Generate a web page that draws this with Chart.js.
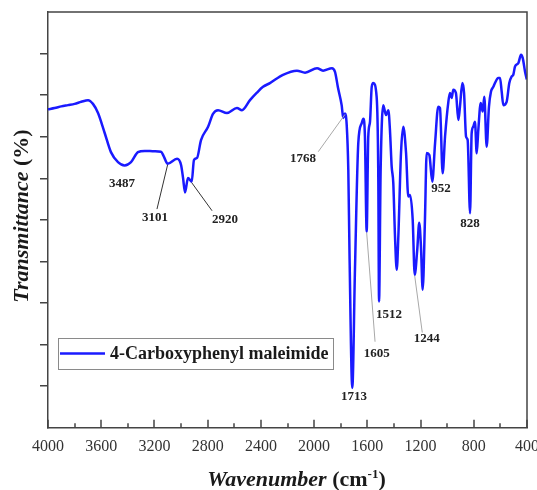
<!DOCTYPE html>
<html>
<head>
<meta charset="utf-8">
<script src="https://cdn.jsdelivr.net/npm/chart.js@4.4.1/dist/chart.umd.min.js"></script>
<style>
  html, body { margin: 0; padding: 0; background: #ffffff; }
  #wrap { width: 537px; height: 490px; position: relative; }
</style>
</head>
<body>
<div id="wrap"><canvas id="ir" width="537" height="490"></canvas></div>
<script>
// FT-IR spectrum of 4-carboxyphenyl maleimide
const seriesName = '4-Carboxyphenyl maleimide';

const wavenumbers = [
  4000, 3950, 3900, 3850, 3800, 3750, 3699, 3662, 3624, 3574, 3527, 3474, 3424, 3376, 3324, 3273,
  3200, 3151, 3130, 3101, 3030, 3000, 2985, 2970, 2948, 2920, 2903, 2880, 2850, 2797, 2760, 2722,
  2655, 2580, 2542, 2482, 2430, 2384, 2332, 2234, 2129, 2068, 1978, 1933, 1866, 1843, 1820, 1793,
  1781, 1768, 1755, 1743, 1734, 1713, 1693, 1668, 1642, 1630, 1618, 1605, 1593, 1580, 1567, 1555,
  1530, 1518, 1512, 1500, 1480, 1460, 1442, 1430, 1417, 1405, 1392, 1379, 1367, 1347, 1330, 1309,
  1292, 1279, 1259, 1244, 1225, 1210, 1197, 1184, 1167, 1154, 1134, 1112, 1091, 1067, 1054, 1034,
  1016, 991, 979, 966, 954, 934, 916, 904, 886, 873, 858, 846, 828, 816, 804, 791,
  778, 766, 748, 733, 721, 703, 686, 671, 653, 641, 616, 603, 590, 578, 553, 533,
  515, 503, 490, 465, 445, 432, 415, 402
];

const transmittance = [
  76.6, 76.9, 77.3, 77.6, 77.9, 78.4, 78.8, 77.9, 75.7, 70.9, 66.3, 63.9, 63.1, 63.9, 66.3, 66.6,
  66.5, 66.4, 65.3, 63.5, 64.7, 63.2, 60.1, 56.6, 60.1, 59.2, 64.4, 64.9, 69.2, 72.4, 75.5, 76.4,
  75.7, 76.9, 76.4, 78.8, 80.6, 82.0, 82.9, 84.9, 85.9, 85.4, 86.5, 85.9, 86.5, 85.6, 81.7, 77.6,
  74.5, 75.6, 72.8, 62.0, 42.0, 9.6, 38.0, 68.5, 73.3, 74.3, 70.0, 47.2, 70.0, 73.6, 82.0, 82.9,
  79.6, 62.0, 30.4, 62.0, 77.6, 75.2, 76.4, 71.6, 62.8, 58.9, 46.0, 38.0, 46.0, 66.1, 72.4, 66.1,
  55.6, 56.0, 50.0, 36.8, 42.8, 49.3, 43.6, 33.2, 50.0, 66.1, 65.6, 59.2, 68.4, 77.2, 76.9, 61.2,
  70.0, 78.4, 80.5, 79.3, 81.3, 80.5, 74.0, 77.2, 82.9, 80.5, 70.0, 69.2, 51.6, 70.8, 72.4, 73.6,
  66.0, 71.6, 78.1, 76.1, 79.6, 67.6, 77.2, 80.8, 82.0, 82.9, 84.1, 84.1, 80.8, 77.6, 78.4, 82.9,
  84.5, 84.9, 86.9, 87.7, 89.7, 88.9, 85.7, 83.8
];

const xTickValues = [4000, 3600, 3200, 2800, 2400, 2000, 1600, 1200, 800, 400];
const xMinorTickValues = [3800, 3400, 3000, 2600, 2200, 1800, 1400, 1000, 600];
const yTickValues = [10, 20, 30, 40, 50, 60, 70, 80, 90];

// assigned band positions (cm-1)
const peakLabels = ['3487', '3101', '2920', '1768', '1713', '1605', '1512', '1244', '952', '828'];
const peakWavenumbers = [3487, 3101, 2920, 1768, 1713, 1605, 1512, 1244, 952, 828];

// where each band label sits, in axis units, and whether a leader line joins it to the band
const notePlacement = [
  { at: [3444, 58.7] },
  { at: [3196, 50.5], leaderFrom: [3181, 52.6], leaderColor: '#333333' },
  { at: [2670, 50.0], leaderFrom: [2767, 52.2], leaderColor: '#333333' },
  { at: [2084, 64.7], leaderFrom: [1969, 66.4], leaderColor: '#a8a8a8' },
  { at: [1700, 7.5] },
  { at: [1530, 17.8], leaderFrom: [1542, 20.7], leaderColor: '#a8a8a8' },
  { at: [1437, 27.2] },
  { at: [1154, 21.4], leaderFrom: [1187, 22.9], leaderColor: '#a8a8a8' },
  { at: [1046, 57.4] },
  { at: [828, 49.0] }
];

const AXIS_COLOR = '#444444';
const LINE_COLOR = '#1a1aff';
const SERIF = '"Liberation Serif", "Times New Roman", serif';

function valueAt(wn) {
  for (let i = 0; i < wavenumbers.length - 1; i++) {
    const a = wavenumbers[i], b = wavenumbers[i + 1];
    if (wn <= a && wn >= b) {
      const t = (a - wn) / (a - b);
      return transmittance[i] + t * (transmittance[i + 1] - transmittance[i]);
    }
  }
  return transmittance[transmittance.length - 1];
}

function drawRuns(ctx, runs, startX, baseY) {
  let x = startX;
  runs.forEach(r => {
    ctx.font = r.font;
    ctx.fillText(r.text, x, baseY - (r.rise || 0));
    x += ctx.measureText(r.text).width;
  });
}
function runsWidth(ctx, runs) {
  let w = 0;
  runs.forEach(r => { ctx.font = r.font; w += ctx.measureText(r.text).width; });
  return w;
}

const decorations = {
  id: 'decorations',
  afterDraw(chart) {
    const { ctx, chartArea: a, scales: { x, y } } = chart;
    ctx.save();

    // top and right frame
    ctx.strokeStyle = AXIS_COLOR;
    ctx.lineWidth = 1.5;
    ctx.beginPath();
    ctx.moveTo(a.left, a.top);
    ctx.lineTo(a.right, a.top);
    ctx.lineTo(a.right, a.bottom);
    ctx.stroke();

    // inward ticks on the wavenumber axis
    ctx.lineWidth = 1.5;
    ctx.beginPath();
    xTickValues.forEach(v => {
      const px = Math.round(x.getPixelForValue(v));
      ctx.moveTo(px, a.bottom);
      ctx.lineTo(px, a.bottom - 8);
    });
    xMinorTickValues.forEach(v => {
      const px = Math.round(x.getPixelForValue(v));
      ctx.moveTo(px, a.bottom);
      ctx.lineTo(px, a.bottom - 4.5);
    });
    ctx.stroke();

    // band labels and leader lines
    ctx.fillStyle = '#222222';
    ctx.font = 'bold 13px ' + SERIF;
    ctx.textAlign = 'center';
    ctx.textBaseline = 'middle';
    peakLabels.forEach((label, i) => {
      const p = notePlacement[i];
      const tx = x.getPixelForValue(p.at[0]);
      const ty = y.getPixelForValue(p.at[1]);
      ctx.fillText(label, tx, ty);
      if (p.leaderFrom) {
        const wn = peakWavenumbers[i];
        ctx.strokeStyle = p.leaderColor;
        ctx.lineWidth = 1;
        ctx.beginPath();
        ctx.moveTo(x.getPixelForValue(p.leaderFrom[0]), y.getPixelForValue(p.leaderFrom[1]));
        ctx.lineTo(x.getPixelForValue(wn), y.getPixelForValue(valueAt(wn)) + 1);
        ctx.stroke();
      }
    });

    // legend
    const lx = a.left + 10, ly = a.top + 326;
    ctx.strokeStyle = '#8a8a8a';
    ctx.lineWidth = 1;
    ctx.strokeRect(lx + 0.5, ly + 0.5, 275, 31);
    ctx.strokeStyle = LINE_COLOR;
    ctx.lineWidth = 2.4;
    ctx.beginPath();
    ctx.moveTo(lx + 2, ly + 15.5);
    ctx.lineTo(lx + 47, ly + 15.5);
    ctx.stroke();
    ctx.fillStyle = '#1a1a1a';
    ctx.font = 'bold 18px ' + SERIF;
    ctx.textAlign = 'left';
    ctx.textBaseline = 'middle';
    ctx.fillText(chart.data.datasets[0].label, lx + 52, ly + 16.5);

    // axis titles
    ctx.fillStyle = '#1a1a1a';
    ctx.textBaseline = 'alphabetic';
    ctx.textAlign = 'left';
    const xTitle = [
      { text: 'Wavenumber', font: 'italic bold 22px ' + SERIF },
      { text: ' (cm', font: 'bold 22px ' + SERIF },
      { text: '-1', font: 'bold 13px ' + SERIF, rise: 8 },
      { text: ')', font: 'bold 22px ' + SERIF }
    ];
    const xc = (a.left + a.right) / 2 + 9;
    drawRuns(ctx, xTitle, xc - runsWidth(ctx, xTitle) / 2, 486);

    const yTitle = [
      { text: 'Transmittance', font: 'italic bold 22px ' + SERIF },
      { text: ' (%)', font: 'bold 22px ' + SERIF }
    ];
    ctx.translate(28, 216);
    ctx.rotate(-Math.PI / 2);
    drawRuns(ctx, yTitle, -runsWidth(ctx, yTitle) / 2, 0);

    ctx.restore();
  }
};

new Chart(document.getElementById('ir'), {
  type: 'line',
  data: {
    datasets: [{
      label: seriesName,
      data: wavenumbers.map((w, i) => ({ x: w, y: transmittance[i] })),
      borderColor: LINE_COLOR,
      borderWidth: 2.5,
      pointRadius: 0,
      fill: false,
      cubicInterpolationMode: 'monotone'
    }]
  },
  options: {
    responsive: false,
    animation: false,
    devicePixelRatio: 1,
    layout: { padding: { left: 40, top: 12, right: 10, bottom: 25 } },
    plugins: { legend: { display: false }, tooltip: { enabled: false } },
    scales: {
      x: {
        type: 'linear',
        reverse: true,
        min: 400,
        max: 4000,
        afterBuildTicks: s => { s.ticks = xTickValues.map(v => ({ value: v })); },
        afterFit: s => { s.paddingLeft = 0; s.paddingRight = 0; },
        ticks: {
          callback: v => String(v),
          font: { family: SERIF, size: 16 },
          color: '#333333',
          padding: 9,
          maxRotation: 0,
          autoSkip: false
        },
        grid: { display: false, drawTicks: false },
        border: { display: true, color: AXIS_COLOR, width: 1.5 }
      },
      y: {
        type: 'linear',
        min: 0,
        max: 100,
        afterBuildTicks: s => { s.ticks = yTickValues.map(v => ({ value: v })); },
        ticks: { display: false },
        grid: { display: true, drawOnChartArea: false, drawTicks: true, tickLength: 8, color: AXIS_COLOR, lineWidth: 1.5 },
        border: { display: true, color: AXIS_COLOR, width: 1.5 }
      }
    }
  },
  plugins: [decorations]
});
</script>
</body>
</html>
